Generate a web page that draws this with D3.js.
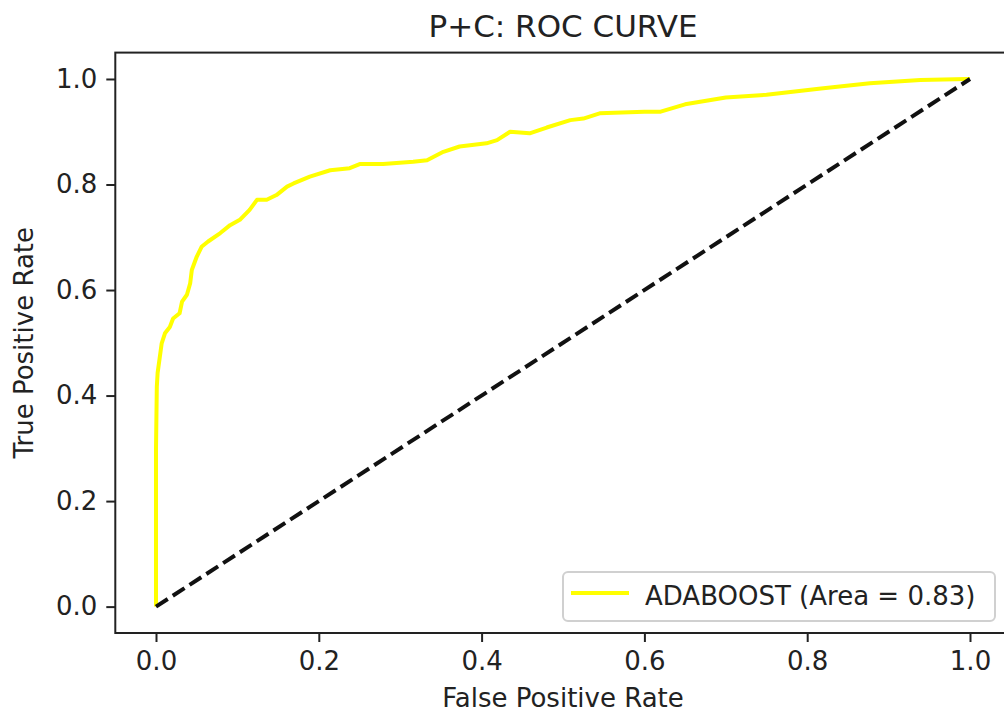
<!DOCTYPE html>
<html>
<head>
<meta charset="utf-8">
<script src="https://cdn.jsdelivr.net/npm/d3@7"></script>
<style>
  body { margin: 0; background: #fff; }
  text { font-family: "DejaVu Sans", sans-serif; fill: #222; }
</style>
</head>
<body>
<div id="chart"></div>
<script>
// ROC curve points
const fpr = [0, 0, 0.001, 0.002, 0.007, 0.011, 0.017, 0.021, 0.029, 0.032, 0.038, 0.042, 0.044, 0.050,
  0.056, 0.064, 0.079, 0.091, 0.103, 0.115, 0.124, 0.136, 0.148, 0.161, 0.169, 0.189, 0.214, 0.238,
  0.251, 0.279, 0.316, 0.333, 0.353, 0.373, 0.406, 0.419, 0.435, 0.459, 0.480, 0.509, 0.525, 0.545,
  0.600, 0.620, 0.650, 0.700, 0.750, 0.817, 0.877, 0.939, 0.996, 1];
const tpr = [0, 0.30, 0.417, 0.443, 0.499, 0.518, 0.530, 0.546, 0.556, 0.578, 0.591, 0.613, 0.638, 0.663,
  0.682, 0.692, 0.708, 0.723, 0.733, 0.752, 0.771, 0.771, 0.780, 0.796, 0.802, 0.815, 0.827, 0.831,
  0.839, 0.839, 0.843, 0.846, 0.862, 0.872, 0.878, 0.884, 0.900, 0.897, 0.908, 0.922, 0.925, 0.935,
  0.938, 0.938, 0.952, 0.965, 0.970, 0.982, 0.992, 0.998, 1.0, 1];
const diagonal = [[0, 0], [1, 1]];
const ticks = [0, 0.2, 0.4, 0.6, 0.8, 1.0];
const titleText = "P+C: ROC CURVE";
const legendLabel = "ADABOOST (Area = 0.83)";

const width = 1004, height = 719;
const plotLeft = 115.3, plotRight = 1010.7, plotTop = 52.6, plotBottom = 633;

const svg = d3.select("#chart").append("svg")
    .attr("width", width)
    .attr("height", height);

const x = d3.scaleLinear().domain([-0.05, 1.05]).range([plotLeft, plotRight]);
const y = d3.scaleLinear().domain([-0.05, 1.05]).range([plotBottom, plotTop]);

// axes
const xAxis = svg.append("g")
    .attr("transform", `translate(0,${plotBottom})`)
    .call(d3.axisBottom(x).tickValues(ticks).tickFormat(d3.format(".1f")).tickSize(9).tickPadding(8));
const yAxis = svg.append("g")
    .attr("transform", `translate(${plotLeft},0)`)
    .call(d3.axisLeft(y).tickValues(ticks).tickFormat(d3.format(".1f")).tickSize(9).tickPadding(9));

[xAxis, yAxis].forEach(a => {
    a.select(".domain").remove();
    a.selectAll(".tick line").attr("stroke", "#222").attr("stroke-width", 2);
    a.selectAll(".tick text").style("font-size", "26px").attr("fill", "#222");
});
xAxis.selectAll(".tick text").attr("dy", "0.78em");

// frame
svg.append("rect")
    .attr("x", plotLeft).attr("y", plotTop)
    .attr("width", plotRight - plotLeft).attr("height", plotBottom - plotTop)
    .attr("fill", "none")
    .attr("stroke", "#222")
    .attr("stroke-width", 2);

const line = d3.line().x(d => x(d[0])).y(d => y(d[1]));

svg.append("path")
    .datum(fpr.map((f, i) => [f, tpr[i]]))
    .attr("d", line)
    .attr("fill", "none")
    .attr("stroke", "#ffff00")
    .attr("stroke-width", 4)
    .attr("stroke-linejoin", "round");

svg.append("path")
    .datum(diagonal)
    .attr("d", line)
    .attr("fill", "none")
    .attr("stroke", "#111")
    .attr("stroke-width", 4)
    .attr("stroke-dasharray", "14,6");

// titles
svg.append("text")
    .attr("x", (plotLeft + plotRight) / 2).attr("y", 37)
    .attr("text-anchor", "middle")
    .style("font-size", "31px")
    .text(titleText);

svg.append("text")
    .attr("x", (plotLeft + plotRight) / 2).attr("y", 707)
    .attr("text-anchor", "middle")
    .style("font-size", "26px")
    .text("False Positive Rate");

svg.append("text")
    .attr("transform", `translate(33,${(plotTop + plotBottom) / 2}) rotate(-90)`)
    .attr("text-anchor", "middle")
    .style("font-size", "26px")
    .text("True Positive Rate");

// legend
const legend = svg.append("g");
legend.append("rect")
    .attr("x", 563).attr("y", 572)
    .attr("width", 432).attr("height", 49)
    .attr("rx", 5)
    .attr("fill", "#fff")
    .attr("fill-opacity", 0.8)
    .attr("stroke", "#d0d0d0")
    .attr("stroke-width", 2);
legend.append("line")
    .attr("x1", 571).attr("x2", 629)
    .attr("y1", 593).attr("y2", 593)
    .attr("stroke", "#ffff00")
    .attr("stroke-width", 4);
legend.append("text")
    .attr("x", 645).attr("y", 605)
    .style("font-size", "26px")
    .text(legendLabel);
</script>
</body>
</html>
